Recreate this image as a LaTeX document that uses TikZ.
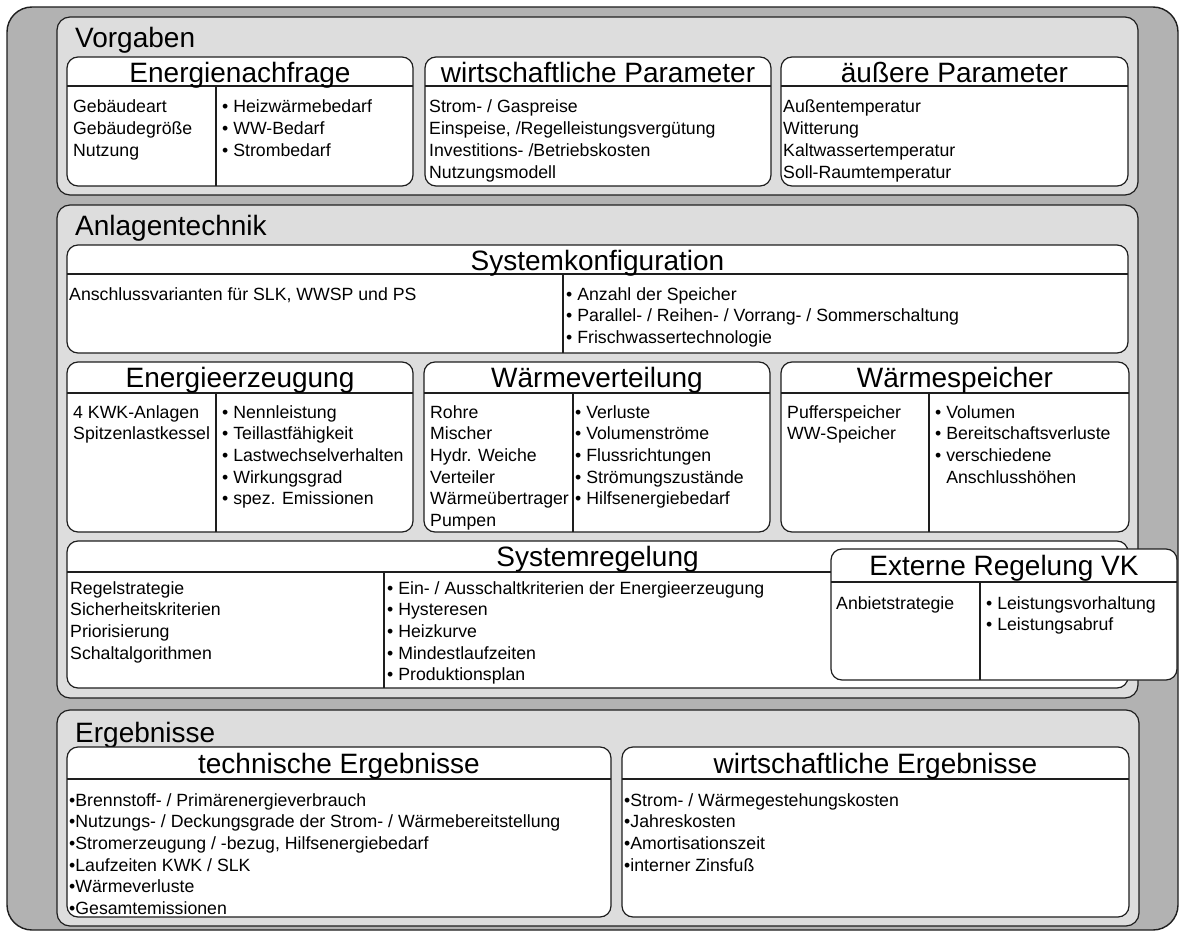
\documentclass[tikz,border=0pt]{standalone}
\usepackage{fontspec}
\setmainfont{Liberation Sans}
\definecolor{outerg}{RGB}{178,178,178}
\definecolor{panelg}{RGB}{221,221,221}
\definecolor{edge}{RGB}{30,30,30}
\newcommand\bodyf{\fontsize{17.7}{21}\selectfont}
\newcommand\titlef{\fontsize{28}{33}\selectfont}
\tikzset{
 outerbox/.style={draw=edge, fill=outerg, line width=1.4pt, rounded corners=25pt},
 panel/.style={draw=edge, fill=panelg, line width=1.2pt, rounded corners=13pt},
 wbox/.style={draw=edge, fill=white, line width=1.2pt, rounded corners=11pt},
 sep/.style={draw=edge, line width=1.1pt},
 txt/.style={anchor=base west, inner sep=0pt, font=\bodyf, text=black},
 ttl/.style={anchor=base, inner sep=0pt, font=\titlef, text=black},
 plabel/.style={anchor=base west, inner sep=0pt, font=\titlef, text=black},
}
\newcommand\boxwithhead[5]{%
 \draw[wbox] (#1,#2) rectangle (#3,#4);
 \draw[sep] (#1,#5) -- (#3,#5);}
\newcommand\textlines[4]{%
 \foreach \t [count=\i] in {#4} {\node[txt] (#1\i) at (#2,{#3+(\i-1)*21.7}) {\t};}}
\begin{document}
\begin{tikzpicture}[x=1pt,y=-1pt]
\useasboundingbox (0,0) rectangle (1179,931);
\draw[outerbox] (7,7) rectangle (1178,930);

% ---------------- Vorgaben
\draw[panel] (57,17) rectangle (1138,195);
\node[plabel] (vorg) at (75,48) {Vorgaben};

\boxwithhead{67}{57}{413}{186}{86}
\draw[sep] (216,86) -- (216,186);
\node[ttl] (ena) at (240,83) {Energienachfrage};
\textlines{enal}{73}{113}{Gebäudeart,Gebäudegröße,Nutzung}
\textlines{enar}{222}{113}{• Heizwärmebedarf,• WW-Bedarf,• Strombedarf}

\boxwithhead{425}{57}{771}{186}{86}
\node[ttl] (wpa) at (598,83) {wirtschaftliche Parameter};
\textlines{wpal}{429}{113}{Strom- / Gaspreise,{Einspeise, /Regelleistungsvergütung},Investitions- /Betriebskosten,Nutzungsmodell}

\boxwithhead{781}{57}{1128}{186}{86}
\node[ttl] (apa) at (954.5,83) {äußere Parameter};
\textlines{apal}{783}{113}{Außentemperatur,Witterung,Kaltwassertemperatur,Soll-Raumtemperatur}

% ---------------- Anlagentechnik
\draw[panel] (57,205) rectangle (1138,698);
\node[plabel] (anl) at (75,236) {Anlagentechnik};

\boxwithhead{67}{245}{1128}{353}{274}
\draw[sep] (563,274) -- (563,353);
\node[ttl] (skf) at (597.5,270) {Systemkonfiguration};
\textlines{skfl}{69}{300}{{Anschlussvarianten für SLK, WWSP und PS}}
\textlines{skfr}{566}{300}{• Anzahl der Speicher,• Parallel- / Reihen- / Vorrang- / Sommerschaltung,• Frischwassertechnologie}

\boxwithhead{67}{362}{413}{532}{393}
\draw[sep] (216,393) -- (216,532);
\node[ttl] (eez) at (240,387) {Energieerzeugung};
\textlines{eezl}{73}{418}{4 KWK-Anlagen,Spitzenlastkessel}
\textlines{eezr}{222}{418}{• Nennleistung,• Teillastfähigkeit,• Lastwechselverhalten,• Wirkungsgrad,• spez. Emissionen}

\boxwithhead{424}{362}{770}{532}{393}
\draw[sep] (573,393) -- (573,532);
\node[ttl] (wvt) at (597,387) {Wärmeverteilung};
\textlines{wvtl}{430}{418}{Rohre,Mischer,Hydr. Weiche,Verteiler,Wärmeübertrager,Pumpen}
\textlines{wvtr}{575}{418}{• Verluste,• Volumenströme,• Flussrichtungen,• Strömungszustände,• Hilfsenergiebedarf}

\boxwithhead{781}{362}{1129}{532}{393}
\draw[sep] (929,393) -- (929,532);
\node[ttl] (wsp) at (955,387) {Wärmespeicher};
\textlines{wspl}{787}{418}{Pufferspeicher,WW-Speicher}
\textlines{wspr}{935}{418}{• Volumen,• Bereitschaftsverluste,• verschiedene,\phantom{• }Anschlusshöhen}

\boxwithhead{67}{541}{1128}{688}{572}
\draw[sep] (384,572) -- (384,688);
\node[ttl] (srg) at (597.5,566) {Systemregelung};
\textlines{srgl}{70}{594}{Regelstrategie,Sicherheitskriterien,Priorisierung,Schaltalgorithmen}
\textlines{srgr}{387}{594}{• Ein- / Ausschaltkriterien der Energieerzeugung,• Hysteresen,• Heizkurve,• Mindestlaufzeiten,• Produktionsplan}

\boxwithhead{831}{549}{1177}{680}{582}
\draw[sep] (980,582) -- (980,680);
\node[ttl] (ext) at (1004,575) {Externe Regelung VK};
\textlines{extl}{836}{609}{Anbietstrategie}
\textlines{extr}{986}{609}{• Leistungsvorhaltung,• Leistungsabruf}

% ---------------- Ergebnisse
\draw[panel] (57,710) rectangle (1139,926);
\node[plabel] (erg) at (75,742) {Ergebnisse};

\boxwithhead{67}{747}{611}{917}{779}
\node[ttl] (ter) at (339,773) {technische Ergebnisse};
\textlines{terl}{69}{806}{•Brennstoff- / Primärenergieverbrauch,•Nutzungs- / Deckungsgrade der Strom- / Wärmebereitstellung,{•Stromerzeugung / -bezug, Hilfsenergiebedarf},•Laufzeiten KWK / SLK,•Wärmeverluste,•Gesamtemissionen}

\boxwithhead{622}{747}{1129}{917}{779}
\node[ttl] (wer) at (875.5,773) {wirtschaftliche Ergebnisse};
\textlines{werl}{624}{806}{•Strom- / Wärmegestehungskosten,•Jahreskosten,•Amortisationszeit,•interner Zinsfuß}
\end{tikzpicture}
\end{document}
